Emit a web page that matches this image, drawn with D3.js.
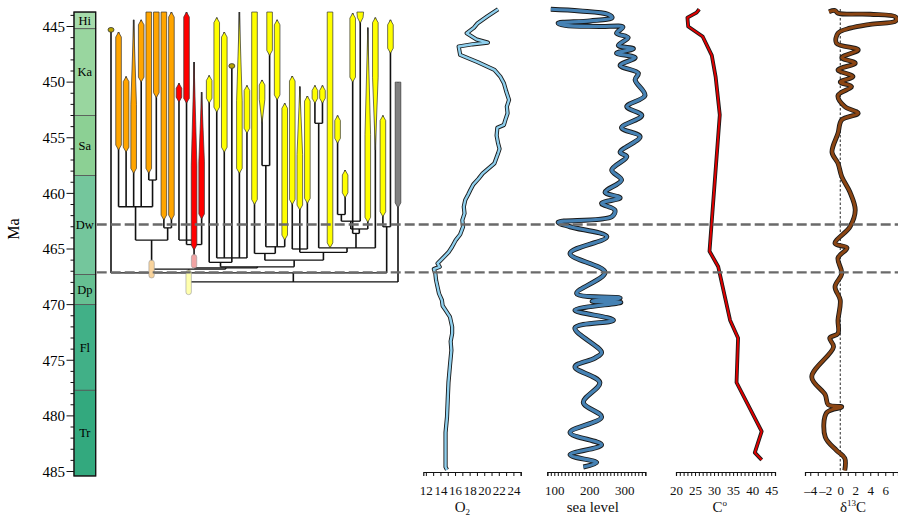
<!DOCTYPE html>
<html>
<head>
<meta charset="utf-8">
<script src="https://cdn.jsdelivr.net/npm/d3@7"></script>
<style>
  body { margin: 0; background: #fff; }
  svg { display: block; font-family: "Liberation Serif", "Times New Roman", serif; }
</style>
</head>
<body>
<svg id="chart" width="898" height="517"></svg>
<script>
// --- time scale (Ma) ---
const stages = ['Hi', 'Ka', 'Sa', 'Dw', 'Dp', 'Fl', 'Tr'];
const stageBase = [445.2, 453.0, 458.4, 467.3, 470.0, 477.7, 485.4];
const stageTop = 443.7;
const eventAges = [462.8, 467.1];

// --- phylogeny: one entry per lineage ---
const taxonGroup = ['ol','or','or','or','or','or','or','or','or','rd','rd','rd','rd','ye','ye','ye','ol','ye','ye','ye',
  'ye','ye','ye','ye','ye','ye','ye','ye','ye','ye','ye','ye','ye','ye','ye','ye','ye','ye','gy'];
const taxonLad = [445.3, 445.5, 449.5, 444.4, 444.4, 443.7, 443.7, 443.7, 443.7, 450.1, 443.7, 448.2, 450.9, 449.4,
  444.2, 445.5, 448.55, 443.7, 450.3, 443.7, 449.8, 443.7, 444.4, 451.9, 449.45, 450.4, 451.25, 450.3, 450.3, 443.7,
  453.0, 457.9, 443.8, 443.7, 445.1, 444.2, 453.0, 444.4, 450.0];
const taxonFad = [445.3, 456.1, 456.3, 458.2, 450.0, 458.2, 451.4, 462.4, 462.4, 451.8, 451.9, 465.1, 462.3, 451.9,
  452.7, 456.3, 448.55, 458.2, 454.6, 461.0, 453.7, 447.6, 451.6, 464.2, 461.0, 461.5, 460.9, 451.9, 451.9, 464.9,
  455.5, 460.4, 450.0, 444.7, 462.6, 456.1, 462.1, 447.4, 461.3];
const taxonForm = ['dot','pod','pod','spike','pod','bar','bar','bar','pod','pod','pod','spike','spike','pod','pod','pod',
  'dot','spike','pod','bar','drop','bar','pod','pod','pod','spike','pod','pod','pod','bar','pod','pod','pod','flare',
  'spike','drop','pod','pod','bar'];

// [id, age, children]
const cladeNodes = [
  ['n1', 458.8, [5, 6]],
  ['n2', 461.2, [1, 2, 3, 4, 'n1']],
  ['n3', 463.1, [7, 8]],
  ['n4', 464.2, ['n2', 'n3']],
  ['n5', 464.2, [9, 10, 11]],
  ['n6', 464.6, ['n5', 12]],
  ['n7', 465.8, [14, 15, 16, 17, 18]],
  ['n8', 466.2, [13, 'n7']],
  ['n9', 457.5, [20, 21]],
  ['n10', 464.8, ['n9', 22, 23]],
  ['n11', 465.4, [19, 'n10']],
  ['n12', 453.7, [27, 28]],
  ['n13', 465.0, [24, 25, 26]],
  ['n14', 461.9, [30, 31]],
  ['n15', 462.5, ['n14', 33]],
  ['n16', 463.2, ['n15', 34]],
  ['n17', 463.6, ['n16', 32]],
  ['n18', 464.9, ['n12', 29, 'n17', 35]],
  ['n19', 465.3, ['n13', 'n18']],
  ['n20', 463.0, [36, 37]],
  ['n21', 466.0, ['n11', 'n19']],
  ['n22', 466.6, ['n8', 'n21']],
  ['n23', 466.7, ['n6', 'n22']],
  ['n24', 466.8, ['n4', 'n23']],
  ['n25', 467.96, ['n24', 38]],
  ['n26', 467.15, [0, 'n25', 'n20']]
];
// ghost lineages [node, top, bottom]
const ghosts = [['n4', 466.0, 467.6], ['n6', 465.5, 466.7], ['n24', 466.9, 469.1]];

// --- proxy curves [Ma, value] ---
const o2 = [[443.45, 21.9], [444.1, 20.4], [444.7, 19.1], [445.1, 18.6], [445.6, 17.6], [446.15, 18.9], [446.45, 20.5],
  [446.6, 18.4], [446.8, 16.5], [447.55, 16.7], [448.2, 19.1], [448.9, 21.4], [449.5, 22.2], [450.1, 22.7], [450.8, 23.0],
  [451.6, 23.4], [452.2, 23.1], [452.8, 23.2], [453.4, 22.9], [453.85, 22.7], [454.1, 21.8], [454.8, 21.7], [455.5, 21.9],
  [456.0, 22.1], [456.4, 21.9], [457.3, 21.4], [458.2, 19.8], [458.7, 19.2], [459.2, 18.5], [459.7, 18.1], [460.1, 17.8],
  [460.6, 17.4], [461.2, 17.2], [461.8, 17.3], [462.4, 17.0], [463.0, 17.1], [463.7, 16.7], [464.2, 16.1], [464.8, 15.6],
  [465.3, 15.1], [465.7, 14.5], [466.3, 13.6], [466.6, 13.9], [466.8, 13.1], [467.2, 13.3], [467.8, 13.4], [468.4, 13.6],
  [469.0, 13.8], [469.6, 14.2], [470.1, 14.3], [470.5, 14.7], [471.1, 15.3], [472.0, 15.6], [472.6, 15.6], [473.3, 15.4],
  [474.1, 15.5], [475.5, 15.3], [477.0, 15.1], [478.5, 15.0], [480.1, 14.9], [481.5, 14.7], [483.0, 14.7], [484.6, 14.7],
  [484.85, 14.9]];
const seaLevel = [[443.45, 90], [443.6, 173], [443.9, 253], [444.2, 265], [444.5, 202], [444.7, 111], [444.9, 131],
  [445.0, 230], [445.05, 296], [445.6, 278], [446.0, 311], [446.7, 283], [447.0, 326], [447.4, 278], [447.8, 331],
  [448.5, 288], [449.2, 340], [449.8, 331], [451.2, 359], [452.2, 307], [453.0, 350], [454.1, 292], [454.9, 345],
  [456.3, 288], [456.7, 307], [457.9, 264], [458.8, 292], [459.9, 245], [460.4, 288], [460.9, 235], [461.5, 273],
  [462.1, 264], [462.6, 111], [463.0, 145], [463.9, 250], [465.4, 145], [467.1, 245], [469.0, 164], [469.4, 288],
  [469.7, 208], [469.8, 290], [470.5, 159], [471.4, 269], [472.1, 159], [474.3, 235], [474.8, 216], [475.6, 159],
  [477.0, 230], [478.8, 183], [480.1, 235], [481.5, 145], [482.6, 235], [483.5, 145], [484.2, 221], [484.6, 183]];
const temperature = [[443.45, 26.1], [443.75, 25.4], [444.2, 23.0], [445.0, 23.2], [445.9, 27.0], [447.6, 29.4],
  [449.5, 30.4], [452.95, 31.5], [465.2, 28.8], [466.6, 31.1], [471.4, 34.2], [473.0, 36.3], [477.0, 35.9],
  [481.4, 42.5], [483.3, 40.7], [483.95, 42.5]];
const d13C = [[443.67, -1.5], [443.56, -0.7], [443.8, -0.3], [443.9, 4.0], [444.15, 7.4], [444.5, 7.4], [444.8, 4.0],
  [445.15, 1.3], [445.6, -0.3], [446.5, -0.5], [447.1, 2.4], [447.8, 0.2], [448.3, 2.0], [448.9, -0.3], [449.5, 1.7],
  [450.0, 0.0], [450.4, 1.5], [451.2, -0.3], [452.2, 0.6], [452.8, 2.4], [453.4, 0.2], [454.6, -0.3], [456.3, -1.1],
  [457.3, -0.3], [458.5, 0.2], [459.9, 1.3], [461.5, 2.0], [463.0, 1.3], [464.5, -0.7], [464.9, 0.9], [465.8, -0.3],
  [467.2, 0.2], [468.4, -0.7], [469.6, 0.0], [471.4, -0.3], [472.6, -0.3], [473.0, -1.4], [473.8, -0.9], [476.5, -3.8],
  [478.1, -2.0], [479.0, -1.6], [479.2, 0.2], [479.7, -1.8], [481.9, -2.0], [483.1, -0.5], [483.8, 0.6], [484.9, 0.6]];

// --- styles ---
const stageFill = ['#a6dbab', '#99d69f', '#8cd094', '#74c69c', '#66c092', '#41b087', '#33a97e'];
const groupFill = { or: '#ffa500', rd: '#ff0000', ye: '#ffff00', gy: '#808080', ol: '#b8a400' };
const ghostFill = ['#f8d39c', '#f0a3a3', '#ffffad'];

const svg = d3.select('#chart');
const y = d3.scaleLinear().domain([445, 485]).range([26.5, 471.5]);
const colX0 = 74, colX1 = 95.7;

// stratigraphic column
const col = svg.append('g');
const tops = [stageTop].concat(stageBase.slice(0, -1));
col.selectAll('rect').data(stages).enter().append('rect')
  .attr('x', colX0).attr('width', colX1 - colX0)
  .attr('y', (d, i) => y(tops[i]))
  .attr('height', (d, i) => y(stageBase[i]) - y(tops[i]))
  .attr('fill', (d, i) => stageFill[i])
  .attr('stroke', '#555').attr('stroke-width', 0.8);
col.selectAll('text').data(stages).enter().append('text')
  .attr('x', (colX0 + colX1) / 2)
  .attr('y', (d, i) => y((tops[i] + stageBase[i]) / 2))
  .attr('dy', '0.35em').attr('text-anchor', 'middle')
  .attr('font-size', 12.5).text(d => d);
col.append('rect').attr('x', colX0).attr('y', y(stageTop))
  .attr('width', colX1 - colX0).attr('height', y(stageBase[6]) - y(stageTop))
  .attr('fill', 'none').attr('stroke', '#111').attr('stroke-width', 1.3);

// left age axis
const ageTicks = d3.range(444, 486);
const ax = svg.append('g');
ax.selectAll('line').data(ageTicks).enter().append('line')
  .attr('x1', d => colX0 - (d % 5 === 0 ? 7.5 : 3.5)).attr('x2', colX0)
  .attr('y1', d => y(d)).attr('y2', d => y(d))
  .attr('stroke', '#111').attr('stroke-width', 1);
ax.selectAll('text').data(ageTicks.filter(d => d % 5 === 0)).enter().append('text')
  .attr('x', 65).attr('y', d => y(d)).attr('dy', '0.35em')
  .attr('text-anchor', 'end').attr('font-size', 15).text(d => d);
svg.append('text').attr('transform', `translate(19,${y(463.2)}) rotate(-90)`)
  .attr('text-anchor', 'middle').attr('font-size', 16).text('Ma');

// phylogeny
const tx = d3.scaleLinear().domain([0, 38]).range([111, 398]);
const nodeMap = {};
cladeNodes.forEach(n => { nodeMap[n[0]] = { age: n[1], kids: n[2] }; });
function nodeX(k) {
  if (typeof k === 'number') return tx(k);
  const n = nodeMap[k];
  if (n.x === undefined) {
    const xs = n.kids.map(nodeX);
    n.x = (d3.min(xs) + d3.max(xs)) / 2;
  }
  return n.x;
}
const kidBottom = k => typeof k === 'number' ? taxonLad[k] : nodeMap[k].age;
const tree = svg.append('g');
cladeNodes.forEach(([id, age, kids]) => {
  const xs = kids.map(nodeX);
  tree.append('line').attr('x1', d3.min(xs)).attr('x2', d3.max(xs))
    .attr('y1', y(age)).attr('y2', y(age)).attr('stroke', '#111').attr('stroke-width', 1.3);
  kids.forEach(k => {
    tree.append('line').attr('x1', nodeX(k)).attr('x2', nodeX(k))
      .attr('y1', y(kidBottom(k))).attr('y2', y(age))
      .attr('stroke', '#111').attr('stroke-width', 1.6);
  });
});
ghosts.forEach(([id, a0, a1], i) => {
  tree.append('rect').attr('x', nodeX(id) - 2.7).attr('width', 5.4)
    .attr('y', y(a0)).attr('height', y(a1) - y(a0)).attr('rx', 2.5)
    .attr('fill', ghostFill[i]).attr('stroke', '#999').attr('stroke-width', 0.6);
});

function spindle(form, cx, y0, y1, w) {
  const h = y1 - y0, t = Math.min(5, h / 3);
  let p;
  if (form === 'bar') p = [[cx - w, y0], [cx + w, y0], [cx + w, y1 - t], [cx, y1], [cx - w, y1 - t]];
  else if (form === 'spike') p = [[cx, y0], [cx + w, y0 + h * 0.55], [cx + w, y1 - t], [cx, y1], [cx - w, y1 - t], [cx - w, y0 + h * 0.55]];
  else if (form === 'drop') p = [[cx, y0], [cx + w, y0 + t], [cx + w, y0 + h * 0.45], [cx, y1], [cx - w, y0 + h * 0.45], [cx - w, y0 + t]];
  else if (form === 'flare') p = [[cx - w * 1.2, y0], [cx + w * 1.2, y0], [cx + w, y0 + h * 0.5], [cx, y1], [cx - w, y0 + h * 0.5]];
  else p = [[cx, y0], [cx + w, y0 + t], [cx + w, y1 - t], [cx, y1], [cx - w, y1 - t], [cx - w, y0 + t]];
  return 'M' + p.join('L') + 'Z';
}
taxonForm.forEach((form, i) => {
  if (form === 'dot') {
    tree.append('ellipse').attr('cx', tx(i)).attr('cy', y(taxonLad[i]))
      .attr('rx', 3).attr('ry', 2.4).attr('fill', groupFill[taxonGroup[i]])
      .attr('stroke', '#333').attr('stroke-width', 0.8);
  } else {
    tree.append('path').attr('d', spindle(form, tx(i), y(taxonLad[i]), y(taxonFad[i]), 2.8))
      .attr('fill', groupFill[taxonGroup[i]]).attr('stroke', '#333').attr('stroke-width', 0.7);
  }
});

// proxy panels
const axisY = 472;
const panels = [
  { data: o2, dom: [11.65, 25], rng: [423.3, 520.7], ticks: d3.range(12, 26), lab: d3.range(12, 25, 2),
    fill: '#8fd0ee', w: 2.4, curve: d3.curveLinear, title: 'O', sub: '2', tAt: 17.0 },
  { data: seaLevel, dom: [80, 360], rng: [547.3, 645.3], ticks: d3.range(80, 361, 10), lab: [100, 200, 300],
    fill: '#4682b4', w: 3.2, curve: d3.curveCatmullRom.alpha(0.5), title: 'sea level', tAt: 210 },
  { data: temperature, dom: [20, 46], rng: [676, 775], ticks: d3.range(20, 47), lab: d3.range(20, 46, 5),
    fill: '#e00000', w: 2, curve: d3.curveLinear, title: 'C', sup: 'o', tAt: 31.5 },
  { data: d13C, dom: [-4.7, 7.7], rng: [805, 898], ticks: d3.range(-4, 8), lab: d3.range(-4, 7, 2),
    fill: '#8b4513', w: 3, curve: d3.curveCatmullRom.alpha(0.5), title: 'δ', sup: '13', after: 'C', tAt: 1.7 }
];
const fmt = d => (d < 0 ? '\u2013' + Math.abs(d) : String(d));

panels.forEach((p, pi) => {
  const x = d3.scaleLinear().domain(p.dom).range(p.rng);
  const g = svg.append('g');
  if (pi === 3) {
    g.append('line').attr('x1', x(0)).attr('x2', x(0)).attr('y1', 9).attr('y2', axisY)
      .attr('stroke', '#111').attr('stroke-width', 0.9).attr('stroke-dasharray', '2.5,2');
  }
  const line = d3.line().x(d => x(d[1])).y(d => y(d[0])).curve(p.curve);
  g.append('path').attr('d', line(p.data)).attr('fill', 'none')
    .attr('stroke', '#1a1a1a').attr('stroke-width', p.w + 1.8).attr('stroke-linejoin', 'round');
  g.append('path').attr('d', line(p.data)).attr('fill', 'none')
    .attr('stroke', p.fill).attr('stroke-width', p.w).attr('stroke-linejoin', 'round');

  const axis = d3.axisBottom(x).tickValues(p.ticks).tickSizeInner(4).tickSizeOuter(4)
    .tickFormat(d => (p.lab.includes(d) ? fmt(d) : ''));
  const ag = svg.append('g').attr('transform', `translate(0,${axisY})`).call(axis);
  ag.select('.domain').attr('stroke', '#111').attr('stroke-width', 1.2);
  ag.selectAll('.tick line').attr('stroke', '#111').attr('stroke-width', 1);
  ag.selectAll('.tick text').attr('y', 22.5).attr('dy', 0)
    .attr('font-family', '"Liberation Serif", serif').attr('font-size', 13).attr('fill', '#111');

  const t = svg.append('text').attr('x', x(p.tAt)).attr('y', 512).attr('text-anchor', 'middle')
    .attr('font-size', 15).attr('fill', '#111');
  t.append('tspan').text(p.title);
  if (p.sub) t.append('tspan').attr('font-size', 9).attr('dy', 3).text(p.sub);
  if (p.sup) t.append('tspan').attr('font-size', 9).attr('dy', -6).text(p.sup);
  if (p.after) t.append('tspan').attr('dy', 6).text(p.after);
});

// event lines
svg.selectAll('.event').data(eventAges).enter().append('line')
  .attr('x1', colX1 + 1).attr('x2', 898)
  .attr('y1', d => y(d)).attr('y2', d => y(d))
  .attr('stroke', '#6a6a6a').attr('stroke-width', 2.4).attr('stroke-dasharray', '10,4');
</script>
</body>
</html>
